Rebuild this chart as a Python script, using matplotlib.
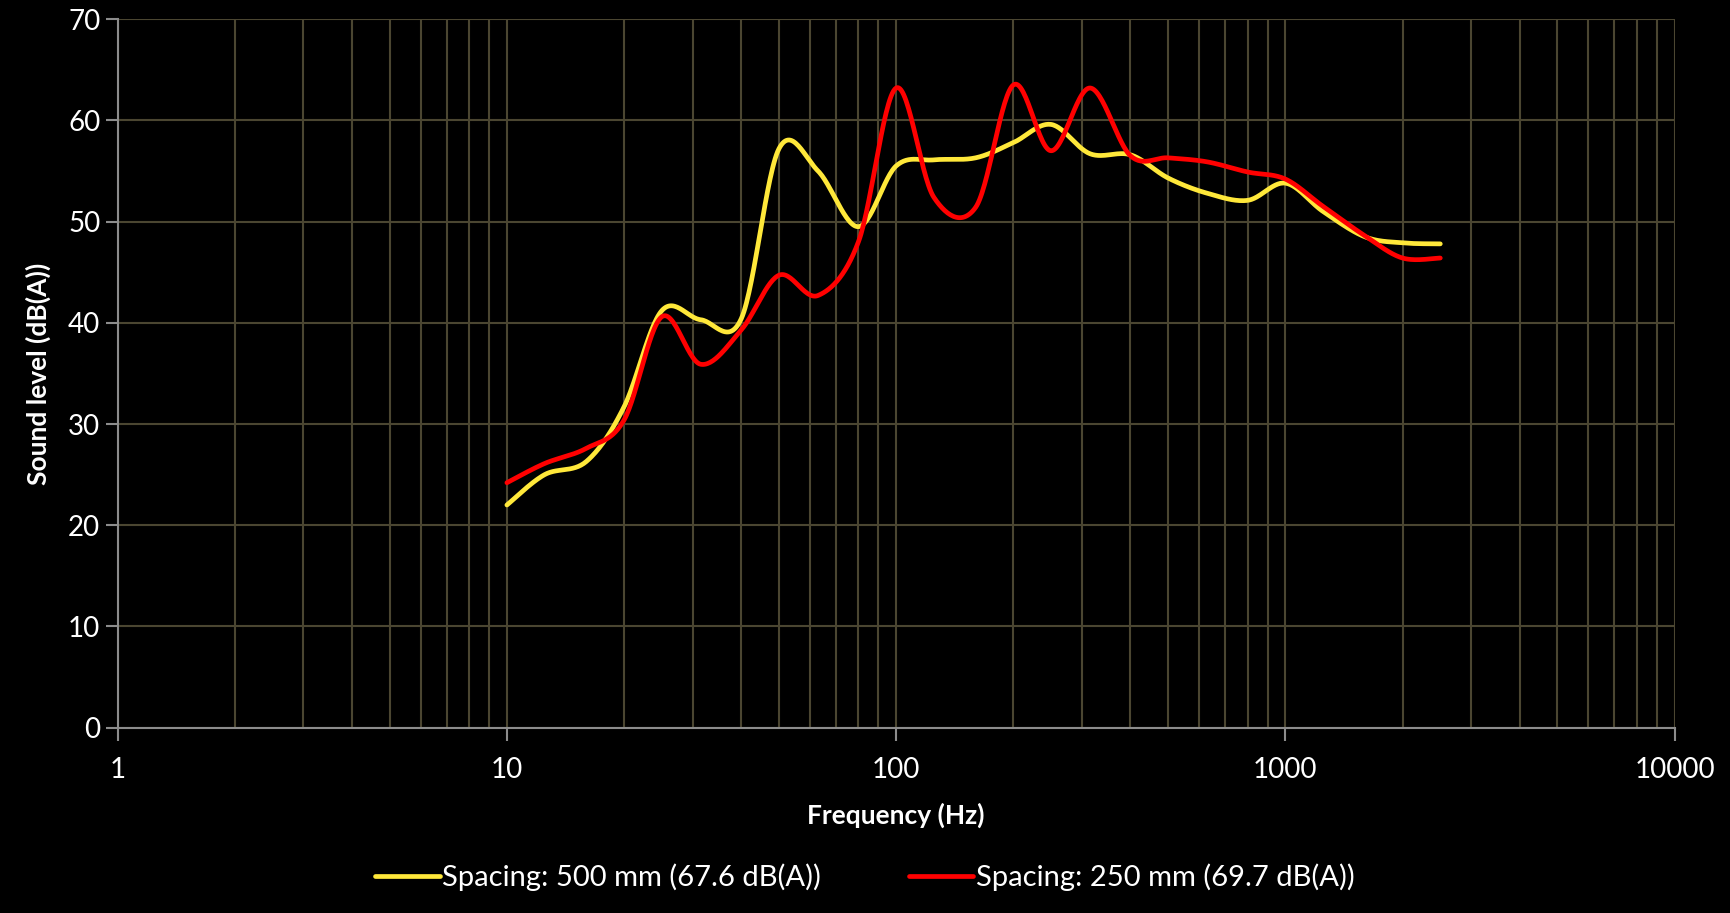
import numpy as np
import matplotlib
matplotlib.use("Agg")
import matplotlib.pyplot as plt
from matplotlib.ticker import FixedLocator, LogLocator, NullFormatter

plt.rcParams['font.family'] = ['Lato', 'DejaVu Sans']

# 1/3 octave band centre frequencies (Hz)
freqs = [10, 12.5, 16, 20, 25, 31.5, 40, 50, 63, 80, 100, 125, 160, 200,
         250, 315, 400, 500, 630, 800, 1000, 1250, 1600, 2000, 2500]

spacing_500 = [22.0, 25.0, 26.3, 31.7, 41.2, 40.3, 40.4, 57.2, 55.0, 49.5,
               55.5, 56.1, 56.3, 57.8, 59.6, 56.7, 56.6, 54.3, 52.8, 52.1,
               53.8, 51.0, 48.5, 47.9, 47.8]
spacing_250 = [24.2, 26.1, 27.6, 30.4, 40.6, 35.9, 39.3, 44.7, 42.7, 48.0,
               63.2, 52.4, 51.4, 63.5, 57.0, 63.2, 56.5, 56.3, 55.9, 54.9,
               54.2, 51.5, 48.6, 46.4, 46.4]

labels = ["Spacing: 500 mm (67.6 dB(A))", "Spacing: 250 mm (69.7 dB(A))"]
colors = ["#FFE83A", "#FF0000"]


def smooth(x, y, n=30):
    # catmull-rom style smoothing in log-x space (like spreadsheet "smoothed line")
    lx = np.log10(np.asarray(x, float))
    y = np.asarray(y, float)
    px = np.concatenate([[lx[0]], lx, [lx[-1]]])
    py = np.concatenate([[y[0]], y, [y[-1]]])
    xs, ys = [], []
    t = np.linspace(0, 1, n, endpoint=False)
    for i in range(1, len(px) - 2):
        p0, p1, p2, p3 = (np.array([px[j], py[j]]) for j in range(i - 1, i + 3))
        c1 = p1 + (p2 - p0) / 6
        c2 = p2 - (p3 - p1) / 6
        pts = ((1 - t)[:, None] ** 3 * p1 + 3 * ((1 - t) ** 2 * t)[:, None] * c1
               + 3 * ((1 - t) * t ** 2)[:, None] * c2 + (t ** 3)[:, None] * p2)
        xs.append(pts[:, 0])
        ys.append(pts[:, 1])
    xs.append([lx[-1]])
    ys.append([y[-1]])
    return 10 ** np.concatenate(xs), np.concatenate(ys)


fig = plt.figure(figsize=(17.3, 9.13), dpi=100, facecolor='black')
ax = fig.add_axes([0.068, 0.203, 0.9, 0.776])
ax.set_facecolor('black')

for vals, lab, c in zip([spacing_500, spacing_250], labels, colors):
    sx, sy = smooth(freqs, vals)
    ax.plot(sx, sy, color=c, lw=3.4, label=lab, solid_capstyle='round', zorder=3)

ax.set_xscale('log')
ax.set_xlim(1, 10000)
ax.set_ylim(0, 70)
ax.set_yticks(range(0, 71, 10))
ax.xaxis.set_major_locator(FixedLocator([1, 10, 100, 1000, 10000]))
ax.set_xticklabels(['1', '10', '100', '1000', '10000'])
ax.xaxis.set_minor_locator(LogLocator(base=10, subs=np.arange(2, 10)))
ax.xaxis.set_minor_formatter(NullFormatter())

grid_c = '#4B4631'
ax.grid(True, which='major', color=grid_c, lw=1.5, zorder=0)
ax.grid(True, which='minor', axis='x', color=grid_c, lw=1.5, zorder=0)

for s in ['top', 'right']:
    ax.spines[s].set_visible(False)
for s in ['left', 'bottom']:
    ax.spines[s].set_color('#8C8C8C')
    ax.spines[s].set_linewidth(1.5)

ax.tick_params(axis='both', which='major', colors='#8C8C8C', labelcolor='white',
               labelsize=20, length=9, width=1.5, direction='out')
ax.tick_params(axis='x', which='minor', length=0)
ax.tick_params(axis='x', pad=12)

ax.set_xlabel('Frequency (Hz)', color='white', fontsize=19, fontweight='bold', labelpad=14)
ax.set_ylabel('Sound level (dB(A))', color='white', fontsize=19, fontweight='bold', labelpad=12)

leg = fig.legend(loc='lower center', bbox_to_anchor=(0.5, -0.005), ncol=2, frameon=False,
                 fontsize=21, handlelength=2.2, handletextpad=0.1, columnspacing=3)
for t in leg.get_texts():
    t.set_color('white')

fig.savefig('out.png', dpi=100, facecolor='black')
